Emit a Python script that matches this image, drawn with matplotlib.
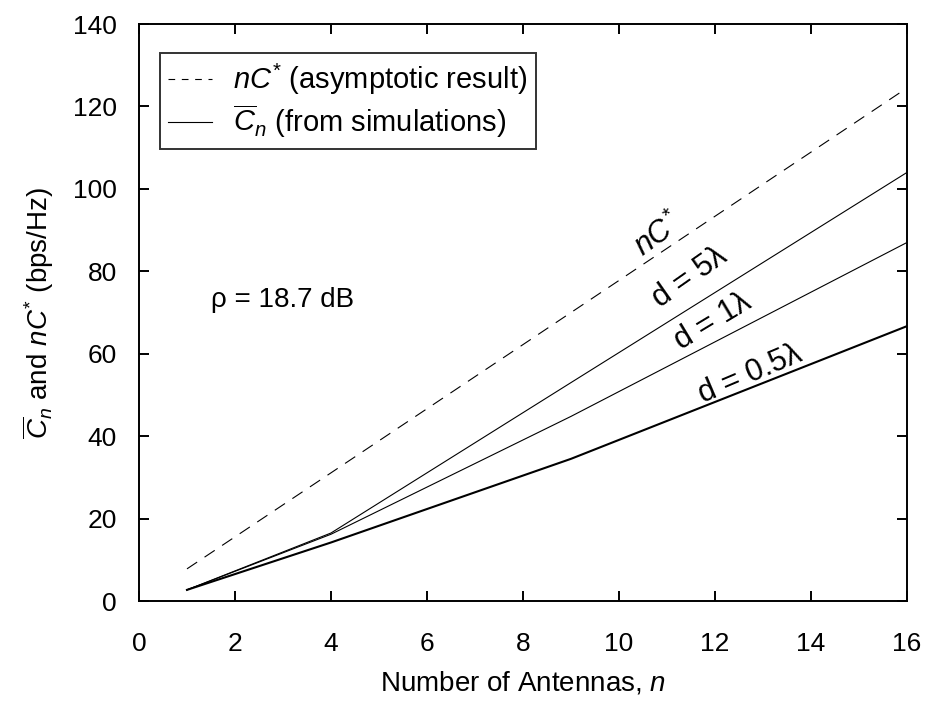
import numpy as np
import matplotlib
matplotlib.use('Agg')
from matplotlib import pyplot as plt
from matplotlib.lines import Line2D

plt.rcParams['font.family'] = ['Liberation Sans', 'DejaVu Sans']
plt.rcParams['mathtext.fontset'] = 'custom'
plt.rcParams['mathtext.rm'] = 'Liberation Sans'
plt.rcParams['mathtext.it'] = 'Liberation Sans:italic'
plt.rcParams['mathtext.bf'] = 'Liberation Sans:bold'

# number of antennas (square arrays)
n_antennas = [1, 4, 9, 16]
asymptotic = [7.8, 31.1, 70.0, 124.5]
cap_d5 = [2.7, 16.5, 53.0, 104.0]
cap_d1 = [2.7, 16.2, 44.8, 87.0]
cap_d05 = [2.7, 14.2, 34.5, 66.7]

fig = plt.figure(figsize=(9.29, 7.04), dpi=100)
ax = fig.add_axes([0.1496, 0.1463, 0.8268, 0.8196])

ax.plot(n_antennas, asymptotic, color='black', lw=0.8, dashes=(11, 8))
ax.plot(n_antennas, cap_d5, color='black', lw=0.8)
ax.plot(n_antennas, cap_d1, color='black', lw=0.8)
ax.plot(n_antennas, cap_d05, color='black', lw=1.5)

ax.set_xlim(0, 16)
ax.set_ylim(0, 140)
ax.set_xticks(range(0, 17, 2))
ax.set_yticks(range(0, 141, 20))
ax.tick_params(direction='in', length=7.5, width=1.4, labelsize=19,
               top=True, right=True)
ax.tick_params(axis='x', pad=22)
ax.tick_params(axis='y', pad=16)
for s in ax.spines.values():
    s.set_linewidth(1.4)

ax.set_xlabel('Number of Antennas, $n$', fontsize=20)
ax.xaxis.set_label_coords(0.5, -0.118)
ax.set_ylabel(r'$\overline{C}_n$ and $nC^{*}$ (bps/Hz)', fontsize=20)
ax.yaxis.set_label_coords(-0.108, 0.5)

ax.text(1.5, 73, 'ρ = 18.7 dB', fontsize=20, ha='left', va='center')
ax.text(10.81, 88.8, '$nC^{*}$', fontsize=22, rotation=36, ha='center', va='center')
ax.text(11.48, 78.6, 'd = 5λ', fontsize=22, rotation=35, ha='center', va='center')
ax.text(11.96, 67.7, 'd = 1λ', fontsize=22, rotation=31, ha='center', va='center')
ax.text(12.73, 55.0, 'd = 0.5λ', fontsize=22, rotation=23, ha='center', va='center')

# legend keys: short dashes like the original key
handles = [Line2D([], [], color='black', lw=0.8, dashes=(6, 6)),
           Line2D([], [], color='black', lw=0.8)]
labels = [r'$nC^{*}$ (asymptotic result)', r'$\overline{C}_n$ (from simulations)']
leg = ax.legend(handles, labels, loc='upper left', bbox_to_anchor=(0.027, 0.95),
                fontsize=21, frameon=True, fancybox=False, edgecolor='black',
                handlelength=1.5, handletextpad=0.7, borderpad=0.3,
                borderaxespad=0.0, labelspacing=0.2)
leg.get_frame().set_linewidth(1.4)

fig.savefig('out.png', dpi=100)
